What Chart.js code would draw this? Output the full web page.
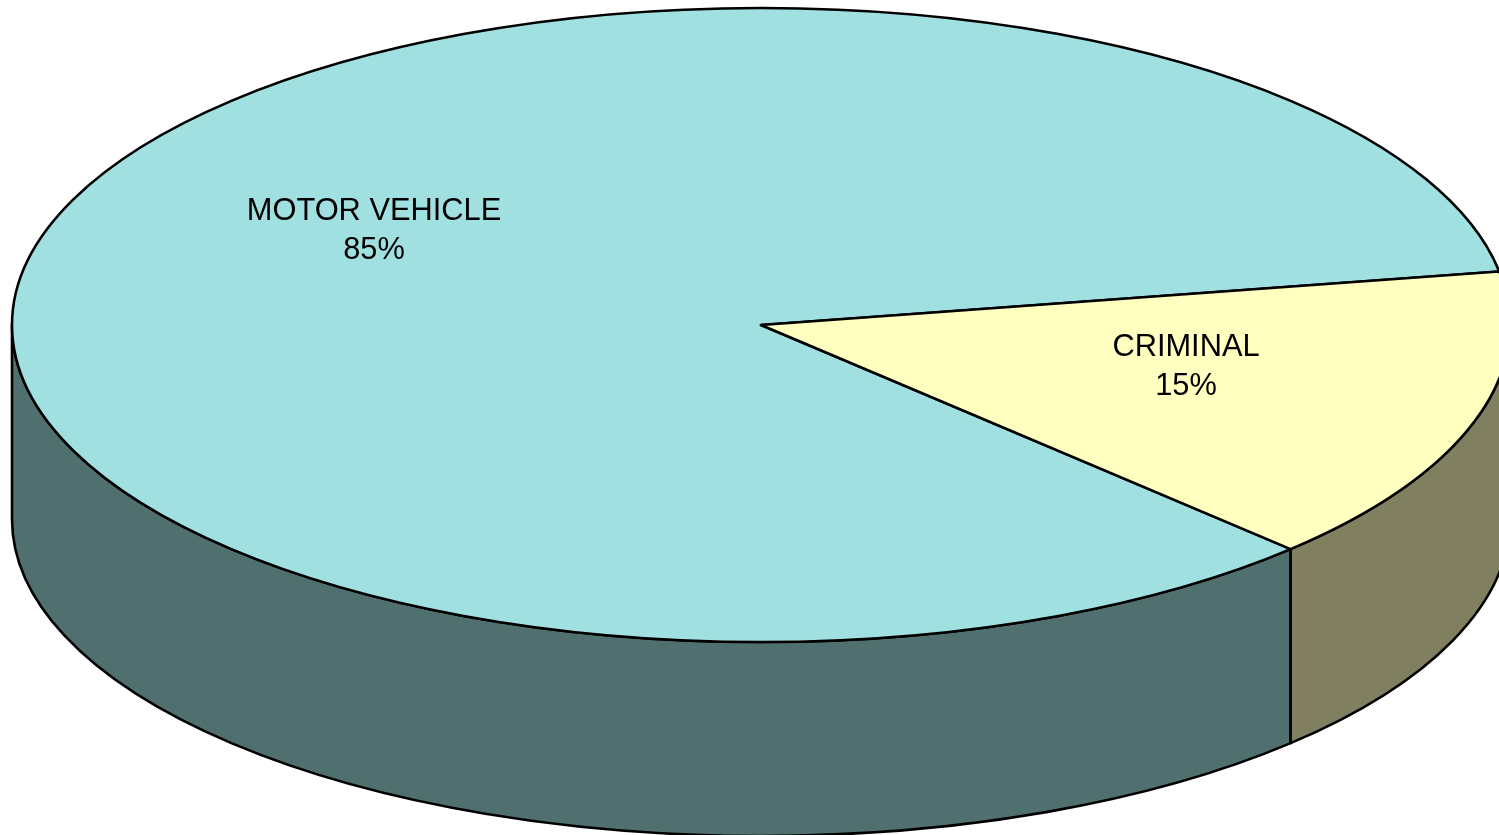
<!DOCTYPE html>
<html>
<head>
<meta charset="utf-8">
<style>
html,body{margin:0;padding:0;background:#fff;overflow:hidden}
#wrap{position:relative;width:1499px;height:835px}
</style>
<script src="https://cdn.jsdelivr.net/npm/chart.js@4/dist/chart.umd.min.js"></script>
</head>
<body>
<div id="wrap"><canvas id="c" width="1499" height="835"></canvas></div>
<script>
const categories = ["MOTOR VEHICLE", "CRIMINAL"];
const shares = [84.8, 15.2];
const shareLabels = ["85%", "15%"];
const topColors = ["#A1E0E0", "#FFFFC0"];
const sideColors = ["#507070", "#808060"];

// Projection of the library's circular arcs onto a tilted disc
const SQUASH_X = 749 / 323.7, SQUASH_Y = 317 / 323.7, DEPTH = 194;
// Label centres as fractions of the projected radii, from the pie centre
const labelAnchors = [[-0.5167, -0.2965], [0.5674, 0.1315]];

const tiltedPie = {
  id: "tiltedPie",
  beforeDatasetsDraw(chart) {
    const ctx = chart.ctx;
    const arcs = chart.getDatasetMeta(0).data;
    ctx.save();
    ctx.lineJoin = "round";
    // Rim first, only the part of each slice facing the viewer
    arcs.forEach((arc, i) => {
      const rx = arc.outerRadius * SQUASH_X, ry = arc.outerRadius * SQUASH_Y;
      const ranges = [[arc.startAngle, arc.endAngle],
                      [arc.startAngle - 2 * Math.PI, arc.endAngle - 2 * Math.PI]];
      ranges.forEach(([s, e]) => {
        const a = Math.max(s, 0), b = Math.min(e, Math.PI);
        if (b <= a) return;
        ctx.beginPath();
        ctx.ellipse(arc.x, arc.y, rx, ry, 0, a, b);
        ctx.ellipse(arc.x, arc.y + DEPTH, rx, ry, 0, b, a, true);
        ctx.closePath();
        ctx.fillStyle = sideColors[i];
        ctx.fill();
        ctx.lineWidth = arc.options.borderWidth;
        ctx.strokeStyle = arc.options.borderColor;
        ctx.stroke();
      });
    });
    // Top face
    arcs.forEach((arc) => {
      const rx = arc.outerRadius * SQUASH_X, ry = arc.outerRadius * SQUASH_Y;
      ctx.beginPath();
      ctx.moveTo(arc.x, arc.y);
      ctx.ellipse(arc.x, arc.y, rx, ry, 0, arc.startAngle, arc.endAngle);
      ctx.closePath();
      ctx.fillStyle = arc.options.backgroundColor;
      ctx.fill();
      ctx.lineWidth = arc.options.borderWidth;
      ctx.strokeStyle = arc.options.borderColor;
      ctx.stroke();
    });
    // Labels
    ctx.fillStyle = "#000";
    ctx.font = '30.8px "Liberation Sans", Arial, sans-serif';
    ctx.textAlign = "center";
    ctx.textBaseline = "middle";
    arcs.forEach((arc, i) => {
      const rx = arc.outerRadius * SQUASH_X, ry = arc.outerRadius * SQUASH_Y;
      const lx = arc.x + labelAnchors[i][0] * rx, ly = arc.y + labelAnchors[i][1] * ry;
      ctx.fillText(categories[i], lx, ly - 19.5);
      ctx.fillText(shareLabels[i], lx, ly + 19.5);
    });
    ctx.restore();
    return false;
  }
};

new Chart(document.getElementById("c"), {
  type: "pie",
  data: {
    labels: categories,
    datasets: [{
      data: shares,
      backgroundColor: topColors,
      borderColor: "#000",
      borderWidth: 2.6
    }]
  },
  options: {
    responsive: false,
    animation: false,
    rotation: 135,
    layout: { padding: { left: 23, bottom: 185 } },
    plugins: { legend: { display: false }, tooltip: { enabled: false }, title: { display: false } }
  },
  plugins: [tiltedPie]
});
</script>
</body>
</html>
